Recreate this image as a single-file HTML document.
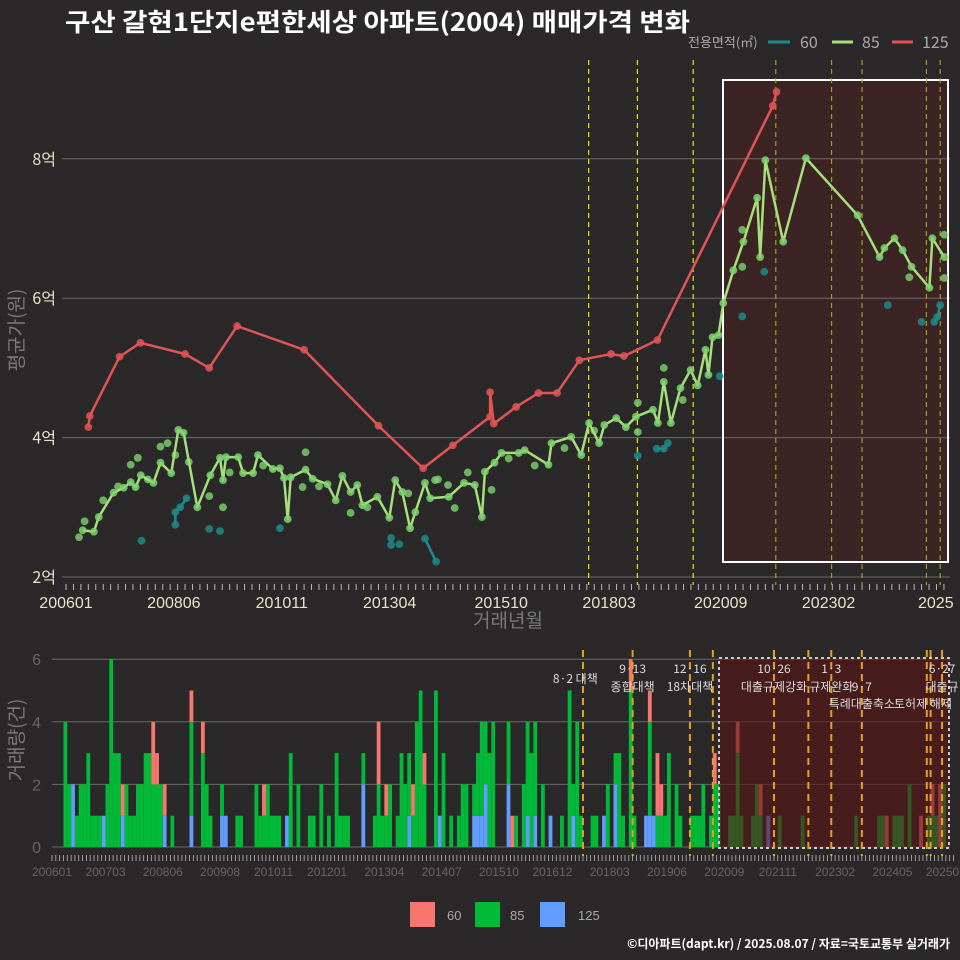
<!DOCTYPE html>
<html><head><meta charset="utf-8">
<style>
html,body{margin:0;padding:0;background:#2a2829;}
svg{display:block;font-family:"Liberation Sans","Noto Sans CJK KR",sans-serif;}
</style></head>
<body>
<svg id="chart" width="960" height="960" viewBox="0 0 960 960" xmlns="http://www.w3.org/2000/svg">
<rect x="0" y="0" width="960" height="960" fill="#2a2829"/>
<text x="65" y="31" fill="#ffffff" font-size="25" font-weight="bold" textLength="625" lengthAdjust="spacingAndGlyphs" font-family="'Noto Sans CJK KR',sans-serif">구산 갈현1단지e편한세상 아파트(2004) 매매가격 변화</text>
<g font-family="'Noto Sans CJK KR',sans-serif">
<text x="688" y="47" fill="#aaa" font-size="13">전용면적(㎡)</text>
<line x1="768" y1="42" x2="790" y2="42" stroke="#1f8a8a" stroke-width="3"/>
<text x="800" y="48" fill="#aaa" font-size="16">60</text>
<line x1="832" y1="42" x2="853" y2="42" stroke="#a6e07a" stroke-width="3"/>
<text x="862" y="48" fill="#aaa" font-size="16">85</text>
<line x1="892" y1="42" x2="913" y2="42" stroke="#e05555" stroke-width="3"/>
<text x="922" y="48" fill="#aaa" font-size="16">125</text>
</g>
<g id="topg"></g>
<g id="botg"></g>
<text transform="translate(23,330) rotate(-90)" text-anchor="middle" fill="#7a7a7a" font-size="19" font-family="'Noto Sans CJK KR',sans-serif">평균가(원)</text>
<text x="508" y="627" text-anchor="middle" fill="#7a7a7a" font-size="19" font-family="'Noto Sans CJK KR',sans-serif">거래년월</text>
<text transform="translate(23,740) rotate(-90)" text-anchor="middle" fill="#7a7a7a" font-size="19" font-family="'Noto Sans CJK KR',sans-serif">거래량(건)</text>
<g>
<rect x="410" y="902" width="25" height="25" fill="#f8766d"/>
<text x="447" y="920" fill="#aaa" font-size="13">60</text>
<rect x="475" y="902" width="25" height="25" fill="#00ba38"/>
<text x="510" y="920" fill="#aaa" font-size="13">85</text>
<rect x="540" y="902" width="25" height="25" fill="#619cff"/>
<text x="578" y="920" fill="#aaa" font-size="13">125</text>
</g>
<text x="950" y="948" text-anchor="end" fill="#ffffff" font-size="12" font-weight="bold" font-family="'Noto Sans CJK KR',sans-serif">©디아파트(dapt.kr) / 2025.08.07 / 자료=국토교통부 실거래가</text>
</svg>
<script>
// ---- data (month index from 2006-01, price in 억) ----
const months125 = [6,6.4,14.4,20,32,38.5,46,64,84,96,104,114,114,115,121,127,132,138,146.5,150,159,190,191];
const price125 = [4.15,4.31,5.16,5.36,5.2,5.0,5.6,5.26,4.17,3.56,3.89,4.3,4.65,4.2,4.44,4.64,4.64,5.11,5.2,5.17,5.4,8.76,8.96];
const months85 = [4.5,7.5,8.8,12.8,15.5,17.4,18.7,20.1,23.5,25.4,28.3,30.2,31.6,35.3,38.8,41.4,42.2,43,46.3,47.6,50.3,51.6,55.6,57.5,58.6,59.6,60.4,64.4,66.3,70.3,72.5,74.3,76.5,78.3,79.7,83.7,86.9,88.5,90.4,92.5,93.9,96.5,97.9,102.9,107,109.9,111.8,112.6,115.2,117.1,121.7,123.3,129.7,130.5,135.8,138.5,140.6,143.3,144.7,147.9,150.5,153.2,157.8,159.1,160.7,162.6,165.2,167.9,169.8,171.9,172.7,173.8,175.4,176.7,179.4,182.1,185.8,186.6,188,192.8,198.9,212.8,218.7,220,222.7,224.9,227.3,232.1,232.9,236.1];
const price85 = [2.67,2.65,2.86,3.21,3.28,3.36,3.29,3.46,3.35,3.64,3.49,4.11,4.07,3.0,3.46,3.71,3.39,3.72,3.72,3.49,3.49,3.75,3.55,3.56,3.42,2.83,3.43,3.54,3.41,3.33,3.1,3.45,3.22,3.32,3.03,3.15,2.85,3.39,3.22,2.7,2.93,3.35,3.13,3.15,3.35,3.32,2.86,3.51,3.64,3.78,3.78,3.82,3.61,3.92,4.01,3.75,4.21,3.92,4.18,4.28,4.15,4.3,4.4,4.21,4.8,4.21,4.71,4.97,4.75,5.26,4.9,5.44,5.47,5.93,6.4,6.81,7.44,6.59,7.98,6.81,8.01,7.19,6.59,6.72,6.86,6.69,6.45,6.15,6.86,6.59];
const monthsExtra85 = [17.4,19.3,25.4,27.3,29.4,38.5,42.2,64.4,63.6,102.7,104.5,114.4,76.5,99.2,160.7,153.7,153.7,165.8,181.8,181.8,236.1,236.1,226.7,3.5,5,10,14,22,33,44,53,68,81,92,100,108,119,126,134,142];
const priceExtra85 = [3.61,3.71,3.87,3.92,3.75,3.16,3.0,3.79,3.29,3.32,2.99,3.25,2.92,3.39,5.0,4.5,4.08,4.54,6.98,6.45,6.91,6.29,6.3,2.57,2.8,3.1,3.3,3.4,3.65,3.5,3.6,3.3,3.0,3.2,3.4,3.5,3.7,3.6,3.85,4.1];
const months60 = [20.3,29.4,29.4,30.7,32.4,38.5,41.4,57.5,87.4,87.4,89.6,96.5,99.5,153.7,158.8,160.7,161.8,175.7,181.8,187.7,220.9,230,233.4,234.2,235];
const price60 = [2.52,2.75,2.93,3.0,3.13,2.69,2.66,2.7,2.56,2.46,2.47,2.55,2.22,3.74,3.84,3.84,3.92,4.88,5.74,6.38,5.9,5.66,5.66,5.73,5.9];
const lineGroups60 = [[1,4],[11,12],[14,16],[22,24]];
const yTicksTop = [2,4,6,8];
const yTickLabelsTop = ["2억","4억","6억","8억"];
const xTickMonths = [0,29,58,87,117,146,176,205,228];
const xTickLabelsTop = ["200601","200806","201011","201304","201510","201803","202009","202302","2025"];
const policyMonthsTop = [140.5,153.6,168.6,190.8,205.8,214,231.3,235];
const volMonths85 = [3,4,6,7,8,9,10,11,12,14,15,16,17,19,20,21,22,23,24,25,26,27,28,31,36,39,40,41,44,48,49,53,54,55,56,57,58,59,62,64,67,68,70,72,74,75,76,77,81,84,85,86,87,88,90,91,92,93,94,95,96,97,100,102,104,106,107,108,110,111,112,113,114,115,119,121,123,124,125,126,128,133,135,136,137,138,141,142,145,147,148,149,151,152,156,158,159,160,161,163,164,167,168,169,170,172,173,174,177,178,179,180,183,184,185,190,196,210,216,217,220,221,222,224,229,230,231,233];
const volCount85 = [4,2,1,2,2,3,1,1,1,2,6,3,3,2,1,1,2,2,3,3,2,2,2,1,3,3,2,1,1,1,1,2,1,1,2,1,1,1,3,2,1,1,2,1,3,1,1,1,1,1,2,1,1,2,1,3,2,2,1,4,5,2,5,3,1,1,2,2,1,2,3,2,3,4,2,1,2,3,3,3,2,1,5,1,4,1,1,1,2,1,3,1,5,1,3,1,1,1,3,2,1,1,1,1,2,1,2,2,1,1,3,1,1,2,1,1,1,1,1,1,1,1,1,2,1,1,1,2];
const volMonths60 = [18,26,27,29,36,39,55,85,87,94,97,120,151,156,158,159,173,179,185,218,227,230,232];
const volCount60 = [1,2,1,1,1,1,1,2,1,1,1,1,1,1,2,1,1,1,1,1,1,1,2];
const volMonths125 = [5,13,18,29,36,44,45,61,81,93,101,110,111,112,113,119,124,126,130,136,144,147,155,156,157,187];
const volCount125 = [2,1,1,1,1,1,1,1,2,1,1,1,1,1,2,2,1,1,1,1,1,2,1,1,1,1];
const volTicks = [0,2,4,6];
const xTickMonthsBot = [0,14,29,44,58,72,87,102,117,131,146,161,176,190,205,220,234];
const xTickLabelsBot = ["200601","200703","200806","200908","201011","201201","201304","201407","201510","201612","201803","201906","202009","202111","202302","202405","202507"];
const policyMonthsBot = [139,152,167,173,189,198,204,212,229,230,233];
const annotationTexts = ["8·2 대책","9·13","종합대책","12·16","18차대책","10·26","대출규제강화","1·3","규제완화","9·7","특례대출축소","토허제 해제","6·27","대출규"];
const annotationMonths = [137,152,152,167,167,189,189,204,204,212,212,228,233,233];
const annotationRows = [0,-1,1,-1,1,-1,1,-1,1,0.9,2,2,-1,1];
</script>
<script>
(function(){
const NS="http://www.w3.org/2000/svg";
function mk(parent,tag,attrs){const e=document.createElementNS(NS,tag);for(const k in attrs)e.setAttribute(k,attrs[k]);parent.appendChild(e);return e;}
const gTop=document.getElementById('topg'), gBot=document.getElementById('botg');
const xTop=m=>66+3.72*m, yTop=v=>577-(v-2)*69.7;
const xBot=m=>52+3.82*m, yBot=c=>847-c*31.3;

let hr=mk(gTop,'rect',{x:723,y:80,width:225,height:482,fill:'#4a1f22','fill-opacity':0.6,stroke:'none'});


yTicksTop.forEach((v,i)=>{
  let g=mk(gTop,'line',{x1:62,x2:950,y1:yTop(v),y2:yTop(v),stroke:'#6a6a6a','stroke-width':1});
  
  
  let t=mk(gTop,'text',{x:56,y:yTop(v)+6,'text-anchor':'end',fill:'#e8e4c9','font-size':16,'font-family':"'Noto Sans CJK KR',sans-serif"});
  t.textContent=yTickLabelsTop[i];
  
  
});
for(let m=0;m<=236;m+=2){mk(gTop,'line',{x1:xTop(m),x2:xTop(m),y1:584,y2:590,stroke:'#bbb','stroke-width':1});}
xTickMonths.forEach((m,i)=>{
  const last=i==xTickMonths.length-1;
  let t=mk(gTop,'text',{x:last?918:xTop(m),y:608,'text-anchor':last?'start':'middle',fill:'#e8e4c9','font-size':16});
  t.textContent=xTickLabelsTop[i];
  
  
});
let hb=mk(gTop,'rect',{x:723,y:80,width:225,height:482,fill:'none',stroke:'#ffffff','stroke-width':2});


policyMonthsTop.forEach(m=>{
  let l=mk(gTop,'line',{x1:xTop(m),x2:xTop(m),y1:60,y2:585,stroke:xTop(m)>723?'#a0a020':'#e6e600','stroke-width':1.2,'stroke-dasharray':'5,4'});
  
  
});
function series(mArr,vArr,color,name,ptColor){
  let d=mArr.map((m,i)=>(i?'L':'M')+xTop(m).toFixed(1)+','+yTop(vArr[i]).toFixed(1)).join('');
  let p=mk(gTop,'path',{d:d,fill:'none',stroke:color,'stroke-width':2.5,'stroke-linejoin':'round'});
  
  
  mArr.forEach((m,i)=>{let c=mk(gTop,'circle',{cx:xTop(m),cy:yTop(vArr[i]),r:3.9,fill:ptColor,'fill-opacity':0.85});
    
    });
}
lineGroups60.forEach(g=>{
  let d='';for(let i=g[0];i<=g[1];i++)d+=(i==g[0]?'M':'L')+xTop(months60[i])+','+yTop(price60[i]);
  let p=mk(gTop,'path',{d:d,fill:'none',stroke:'#1f8a8a','stroke-width':2.5});
  
  
});
months60.forEach((m,i)=>{let c=mk(gTop,'circle',{cx:xTop(m),cy:yTop(price60[i]),r:3.9,fill:'#1f8a8a','fill-opacity':0.85});
  
  });
monthsExtra85.forEach((m,i)=>{let c=mk(gTop,'circle',{cx:xTop(m),cy:yTop(priceExtra85[i]),r:3.9,fill:'#7ed36f','fill-opacity':0.8});
  
  });
series(months85,price85,'#a6e07a','85','#7ed36f');
series(months125,price125,'#e05555','125','#e05555');

volTicks.forEach(v=>{
  let g=mk(gBot,'line',{x1:52,x2:950,y1:yBot(v),y2:yBot(v),stroke:'#6a6a6a','stroke-width':1});
  
  
  let t=mk(gBot,'text',{x:41,y:yBot(v)+6,'text-anchor':'end',fill:'#666','font-size':16});
  t.textContent=v;
  
  
});
const stackBase={};
function bars(mArr,cArr,color,name){
  mArr.forEach((m,i)=>{
    const b=stackBase[m]||0;
    let r=mk(gBot,'rect',{x:xBot(m),y:yBot(b+cArr[i]),width:3.82,height:cArr[i]*31.3,fill:color});
    
    
    stackBase[m]=b+cArr[i];
  });
}
bars(volMonths125,volCount125,'#619cff','125');
bars(volMonths85,volCount85,'#00ba38','85');
bars(volMonths60,volCount60,'#f8766d','60');
let br=mk(gBot,'rect',{x:719,y:658,width:230,height:190,fill:'#5a1414','fill-opacity':0.6,stroke:'#cccccc','stroke-width':2,'stroke-dasharray':'3,3'});


policyMonthsBot.forEach(m=>{
  let l=mk(gBot,'line',{x1:xBot(m),x2:xBot(m),y1:650,y2:856,stroke:'#e8a020','stroke-width':2,'stroke-dasharray':'7,5'});
  
  
});
for(let m=0;m<=236;m++){mk(gBot,'line',{x1:xBot(m),x2:xBot(m),y1:855,y2:861,stroke:'#bbb','stroke-width':0.8});}
xTickMonthsBot.forEach((m,i)=>{
  let t=mk(gBot,'text',{x:xBot(m),y:876,'text-anchor':'middle',fill:'#666','font-size':12});
  t.textContent=xTickLabelsBot[i];
  
  
});
annotationTexts.forEach((s,i)=>{
  const row=annotationRows[i];
  const y=row<0?673:(row==2?708:(row==0?683:691));
  let t=mk(gBot,'text',{x:xBot(annotationMonths[i]),y:y,'text-anchor':'middle',fill:'#dddddd','font-size':12,'font-family':"'Noto Sans CJK KR',sans-serif"});
  t.textContent=s;
  
  
});
})();
</script>
</body></html>
